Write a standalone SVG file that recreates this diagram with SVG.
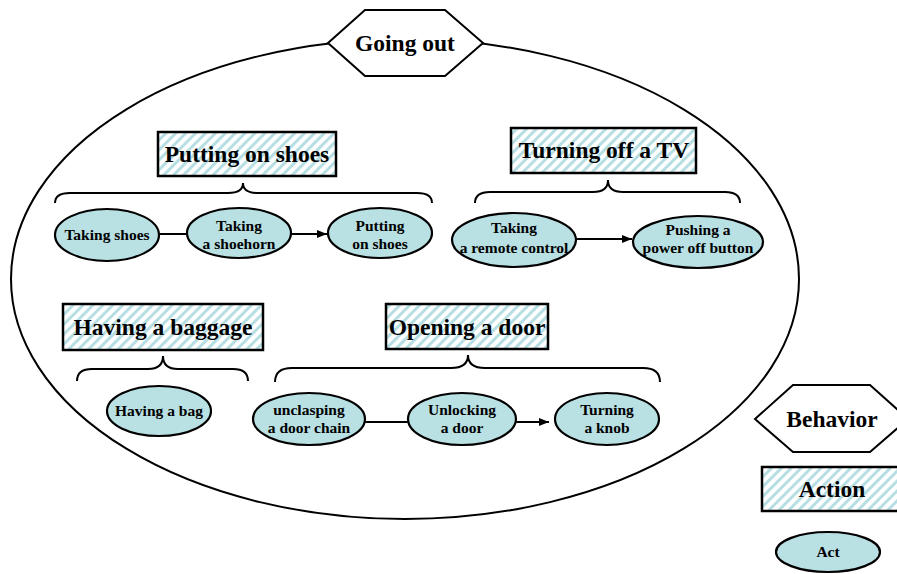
<svg xmlns="http://www.w3.org/2000/svg" width="897" height="574" viewBox="0 0 897 574">
  <defs>
    <pattern id="hatch" patternUnits="userSpaceOnUse" width="7" height="7" patternTransform="rotate(45)">
      <rect width="7" height="7" fill="#ffffff"/>
      <rect width="3" height="7" fill="#b7dfe3"/>
    </pattern>
    <marker id="arrow" viewBox="0 0 10 10" refX="10" refY="5" markerWidth="10" markerHeight="10" markerUnits="userSpaceOnUse" orient="auto">
      <path d="M0,1 L10,5 L0,9 Z" fill="#000"/>
    </marker>
  </defs>
  <style>
    text { font-family: "Liberation Serif", "Times New Roman", serif; font-weight: bold; fill: #000; text-anchor: middle; }
    .behavior { fill: #ffffff; stroke: #000; stroke-width: 2; }
    .action { fill: url(#hatch); stroke: #000; stroke-width: 2.5; }
    .act { fill: #b9e0e3; stroke: #000; stroke-width: 2.2; }
    .brace { fill: none; stroke: #000; stroke-width: 2; }
    .link { fill: none; stroke: #000; stroke-width: 2; }
    .t-big { font-size: 23.5px; }
    .t-act { font-size: 15.5px; }
  </style>

  <rect width="897" height="574" fill="#ffffff"/>

  <!-- scope of the whole behaviour -->
  <ellipse id="scope" cx="405" cy="279" rx="394" ry="240" fill="none" stroke="#000" stroke-width="2"/>

  <g id="going-out">
    <polygon class="behavior" points="328,43 365,10 445,10 483,43 445,76 365,76"/>
    <text class="t-big" x="405" y="51">Going out</text>
  </g>

  <!-- actions -->
  <g id="putting-on-shoes">
    <rect class="action" x="158" y="132" width="178" height="44"/>
    <text class="t-big" x="247" y="162">Putting on shoes</text>
  </g>
  <g id="turning-off-tv">
    <rect class="action" x="511" y="128" width="185" height="45"/>
    <text class="t-big" x="604" y="158">Turning off a TV</text>
  </g>
  <g id="having-baggage">
    <rect class="action" x="63" y="304" width="200" height="46"/>
    <text class="t-big" x="163" y="335">Having a baggage</text>
  </g>
  <g id="opening-door">
    <rect class="action" x="386" y="304" width="162" height="45"/>
    <text class="t-big" x="467" y="335">Opening a door</text>
  </g>

  <!-- braces grouping the acts of each action -->
  <g id="braces">
    <path class="brace" d="M55,203 Q55,193 70,193 L228,193 Q243,193 243,183 Q243,193 258,193 L417,193 Q432,193 432,203"/>
    <path class="brace" d="M475,203 Q475,192 490,192 L593,192 Q608,192 608,180 Q608,192 623,192 L725,192 Q740,192 740,203"/>
    <path class="brace" d="M77,381 Q77,369 92,369 L148,369 Q163,369 163,356 Q163,369 178,369 L233,369 Q248,369 248,381"/>
    <path class="brace" d="M275,382 Q275,368 292,368 L451,368 Q468,368 468,355 Q468,368 485,368 L643,368 Q660,368 660,382"/>
  </g>

  <!-- connectors between acts -->
  <g id="connectors">
    <line class="link" x1="159" y1="234" x2="187" y2="234"/>
    <line class="link" x1="291" y1="234" x2="327" y2="234" marker-end="url(#arrow)"/>
    <line class="link" x1="576" y1="239" x2="632" y2="239" marker-end="url(#arrow)"/>
    <line class="link" x1="365" y1="422" x2="408" y2="422"/>
    <line class="link" x1="516" y1="422" x2="549" y2="422" marker-end="url(#arrow)"/>
  </g>

  <!-- acts -->
  <g id="taking-shoes">
    <ellipse class="act" cx="107" cy="235" rx="52" ry="26"/>
    <text class="t-act" x="107" y="240">Taking shoes</text>
  </g>
  <g id="taking-shoehorn">
    <ellipse class="act" cx="239" cy="233" rx="52" ry="25"/>
    <text class="t-act" x="239" y="231">Taking</text>
    <text class="t-act" x="239" y="249">a shoehorn</text>
  </g>
  <g id="putting-shoes">
    <ellipse class="act" cx="380" cy="233" rx="52" ry="25"/>
    <text class="t-act" x="380" y="231">Putting</text>
    <text class="t-act" x="380" y="249">on shoes</text>
  </g>
  <g id="taking-remote">
    <ellipse class="act" cx="514" cy="240" rx="62" ry="27"/>
    <text class="t-act" x="514" y="233">Taking</text>
    <text class="t-act" x="514" y="253">a remote control</text>
  </g>
  <g id="pushing-button">
    <ellipse class="act" cx="698" cy="242" rx="65" ry="26"/>
    <text class="t-act" x="698" y="235">Pushing a</text>
    <text class="t-act" x="698" y="253">power off button</text>
  </g>
  <g id="having-bag">
    <ellipse class="act" cx="159" cy="411" rx="52" ry="25"/>
    <text class="t-act" x="159" y="416">Having a bag</text>
  </g>
  <g id="unclasping-chain">
    <ellipse class="act" cx="309" cy="419" rx="56" ry="26"/>
    <text class="t-act" x="309" y="415">unclasping</text>
    <text class="t-act" x="309" y="433">a door chain</text>
  </g>
  <g id="unlocking-door">
    <ellipse class="act" cx="462" cy="419" rx="54" ry="26"/>
    <text class="t-act" x="462" y="415">Unlocking</text>
    <text class="t-act" x="462" y="433">a door</text>
  </g>
  <g id="turning-knob">
    <ellipse class="act" cx="607" cy="419" rx="52" ry="26"/>
    <text class="t-act" x="607" y="415">Turning</text>
    <text class="t-act" x="607" y="433">a knob</text>
  </g>

  <!-- legend -->
  <g id="legend-behavior">
    <polygon class="behavior" points="755,419 793,385 870,385 908,419 870,452 793,452"/>
    <text class="t-big" x="832" y="427">Behavior</text>
  </g>
  <g id="legend-action">
    <rect class="action" x="762" y="467" width="150" height="44"/>
    <text class="t-big" x="832" y="497">Action</text>
  </g>
  <g id="legend-act">
    <ellipse class="act" cx="828" cy="552" rx="52" ry="20"/>
    <text class="t-act" x="828" y="557">Act</text>
  </g>
</svg>
